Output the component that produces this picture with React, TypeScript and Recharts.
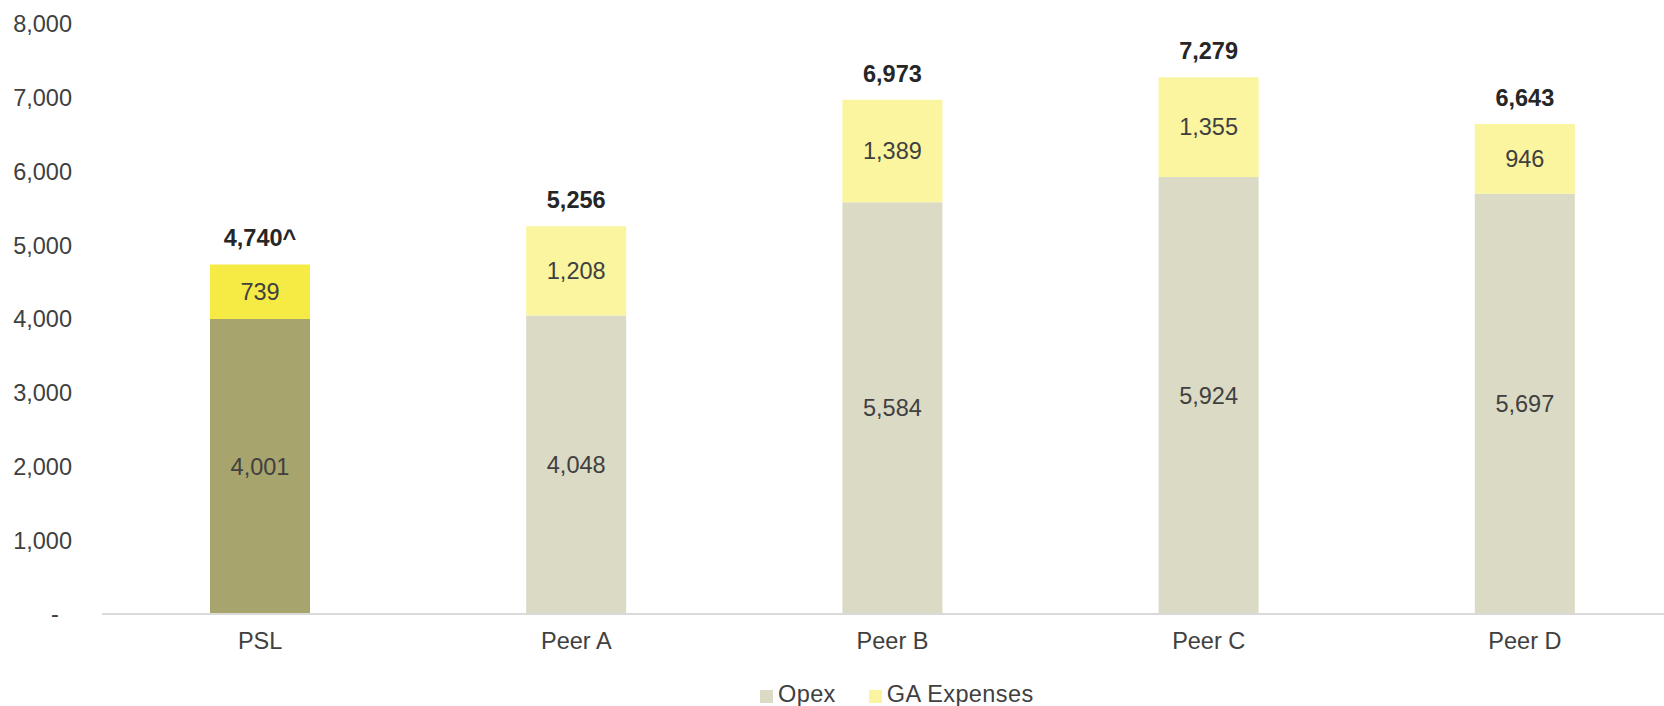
import { BarChart, Bar, XAxis, YAxis, Legend, LabelList, Cell } from "recharts";

const categories = ["PSL", "Peer A", "Peer B", "Peer C", "Peer D"];
const opex = [4001, 4048, 5584, 5924, 5697];
const gaExpenses = [739, 1208, 1389, 1355, 946];
const totalLabels = ["4,740^", "5,256", "6,973", "7,279", "6,643"];
const yTicks = [0, 1000, 2000, 3000, 4000, 5000, 6000, 7000, 8000];

const FONT = '"Liberation Sans", Arial, sans-serif';
const TEXT = "#404040";
const FS = 23.5;

const OPEX_COLOR = "#DBDAC5";
const GA_COLOR = "#FAF59E";
const PSL_OPEX = "#A8A46D";
const PSL_GA = "#F6EB45";

const data = categories.map((name, i) => ({
  name,
  opex: opex[i],
  ga: gaExpenses[i],
  total: totalLabels[i],
}));

const fmt = (v: number) => v.toLocaleString("en-US");

function LegendBox() {
  const item = (color: string, label: string, first: boolean) => (
    <div style={{ display: "flex", alignItems: "center", marginLeft: first ? 0 : 33 }}>
      <span style={{ width: 13, height: 13, background: color, display: "inline-block", marginTop: 4 }} />
      <span style={{ marginLeft: 5, letterSpacing: 0.4 }}>{label}</span>
    </div>
  );
  return (
    <div
      style={{
        display: "flex",
        fontFamily: FONT,
        fontSize: FS,
        lineHeight: "22px",
        color: TEXT,
        marginTop: 13,
      }}
    >
      {item(OPEX_COLOR, "Opex", true)}
      {item(GA_COLOR, "GA Expenses", false)}
    </div>
  );
}

export default function App() {
  return (
    <div style={{ position: "fixed", left: 8, top: 8, width: 1656, height: 698, overflow: "hidden", background: "#fff" }}>
      <BarChart
        width={1675}
        height={698}
        data={data}
        margin={{ top: 16, right: 0, left: 0, bottom: 0 }}
        barSize={100}
      >
        <XAxis
          dataKey="name"
          axisLine={{ stroke: "#D9D9D9", strokeWidth: 2 }}
          tickLine={false}
          tickMargin={12}
          height={56}
          tick={{ fill: TEXT, fontSize: FS, fontFamily: FONT }}
        />
        <YAxis
          width={94}
          domain={[0, 8000]}
          ticks={yTicks}
          interval={0}
          axisLine={false}
          tickLine={false}
          tickMargin={24}
          tick={{ fill: TEXT, fontSize: FS, fontFamily: FONT }}
          tickFormatter={(v: number) => (v === 0 ? "-\u00a0\u00a0" : fmt(v))}
        />
        <Legend
          verticalAlign="bottom"
          height={36}
          wrapperStyle={{ left: 752, width: 400 }}
          content={() => <LegendBox />}
        />
        <Bar dataKey="opex" name="Opex" stackId="a" fill={OPEX_COLOR} isAnimationActive={false}>
          {data.map((d, i) => (
            <Cell key={d.name} fill={i === 0 ? PSL_OPEX : OPEX_COLOR} />
          ))}
          <LabelList
            dataKey="opex"
            position="center"
            formatter={(v: number) => fmt(v)}
            style={{ fill: TEXT, fontSize: FS, fontFamily: FONT }}
          />
        </Bar>
        <Bar dataKey="ga" name="GA Expenses" stackId="a" fill={GA_COLOR} isAnimationActive={false}>
          {data.map((d, i) => (
            <Cell key={d.name} fill={i === 0 ? PSL_GA : GA_COLOR} />
          ))}
          <LabelList
            dataKey="ga"
            position="center"
            formatter={(v: number) => fmt(v)}
            style={{ fill: TEXT, fontSize: FS, fontFamily: FONT }}
          />
          <LabelList
            dataKey="total"
            position="top"
            offset={18}
            style={{ fill: "#262626", fontSize: FS, fontWeight: "bold", fontFamily: FONT }}
          />
        </Bar>
      </BarChart>
    </div>
  );
}
